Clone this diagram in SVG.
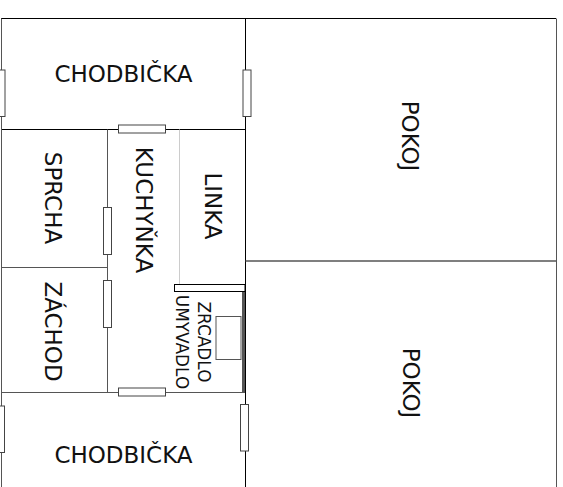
<svg xmlns="http://www.w3.org/2000/svg" width="563" height="487" viewBox="0 0 563 487">
<style>
.w{stroke:#000;stroke-width:1;fill:none}
.g{stroke:#555;stroke-width:1;fill:none}
.d{fill:#fff;stroke:#444;stroke-width:1}
text{font-family:"DejaVu Sans",sans-serif;fill:#111;font-size:23px;text-anchor:middle}
</style>
<rect width="563" height="487" fill="#fff"/>
<g id="walls">
<path class="w" d="M1 18.500H556M245.500 18.500V487M1 129.500H245.500"/>
<path class="g" d="M1.500 18.500V487M556.500 18.500V487M107.500 129.500V392M1 267.500H107.500M1 392.500H245"/>
<path d="M245.500 261H556" stroke="#555" stroke-width="1.500" fill="none"/>
<path d="M179.500 129.500V284" stroke="#ccc" stroke-width="1" fill="none"/>
<path d="M243.500 291V392" stroke="#555" stroke-width="3" fill="none"/>
</g>
<g id="doors">
<rect class="d" x="-4" y="70" width="9" height="46.500"/>
<rect class="d" x="243" y="70" width="8" height="46.500"/>
<rect class="d" x="118.500" y="125" width="47" height="8"/>
<rect class="d" x="103.500" y="207.500" width="8" height="47"/>
<rect class="d" x="103.500" y="280.500" width="8" height="47"/>
<rect class="d" x="118.500" y="388" width="47" height="8"/>
<rect class="d" x="-4" y="406" width="8.500" height="46.500"/>
<rect class="d" x="240.500" y="404.500" width="8" height="46.500"/>
</g>
<g id="linka-edge"><rect x="174.500" y="284.500" width="70.500" height="7" fill="#fff" stroke="#000"/></g>
<g id="mirror"><rect class="g" x="216" y="316.500" width="25" height="43" fill="#fff"/></g>
<g id="labels">
<text x="123.500" y="82">CHODBIČKA</text>
<text x="123.500" y="463">CHODBIČKA</text>
<text transform="translate(45 198) rotate(90)">SPRCHA</text>
<text transform="translate(45 331.500) rotate(90)">ZÁCHOD</text>
<text transform="translate(136 210) rotate(90)">KUCHYŇKA</text>
<text transform="translate(205 206) rotate(90)">LINKA</text>
<text transform="translate(197.500 342) rotate(90) scale(.94 1)" style="font-size:18px">ZRCADLO</text>
<text transform="translate(176 342) rotate(90) scale(.94 1)" style="font-size:18px">UMYVADLO</text>
<text transform="translate(401.500 136) rotate(90)">POKOJ</text>
<text transform="translate(402.500 383) rotate(90)">POKOJ</text>
</g>
</svg>
